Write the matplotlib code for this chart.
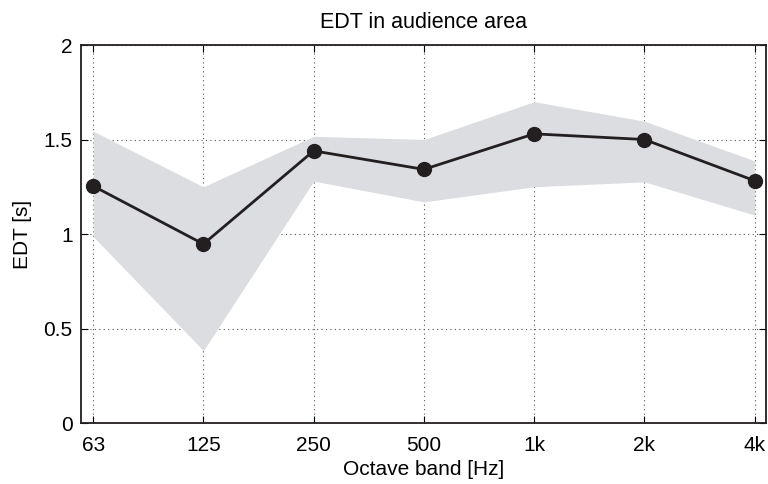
import matplotlib
matplotlib.use('Agg')
import matplotlib.pyplot as plt
import numpy as np

plt.rcParams['font.family'] = ['Liberation Sans', 'DejaVu Sans']

bands = ['63', '125', '250', '500', '1k', '2k', '4k']
edt_mean = [1.254, 0.947, 1.44, 1.342, 1.53, 1.50, 1.282]
edt_upper = [1.544, 1.25, 1.517, 1.50, 1.70, 1.597, 1.387]
edt_lower = [0.987, 0.383, 1.28, 1.17, 1.25, 1.276, 1.10]

x = np.arange(len(bands))

fig = plt.figure(figsize=(7.68, 4.84), dpi=100)
ax = fig.add_axes([0.1055, 0.126, 0.8915, 0.781])

# spread of EDT across seats, then the mean per band
ax.fill_between(x, edt_lower, edt_upper, color='#dcdde0', linewidth=0, zorder=1)
ax.plot(x, edt_mean, color='#231f20', lw=2, marker='o', ms=10, zorder=3)

ax.set_xlim(-0.11, 6.1)
ax.set_ylim(0, 2)
ax.set_xticks(x)
ax.set_xticklabels(bands)
ax.set_yticks([0, 0.5, 1, 1.5, 2])
ax.set_yticklabels(['0', '0.5', '1', '1.5', '2'])

ax.grid(True, linestyle=(0, (1, 3)), color='#555555', linewidth=0.8, zorder=0)
ax.set_axisbelow(True)
ax.tick_params(direction='in', top=True, right=True, length=5, labelsize=15)
ax.tick_params(axis='x', pad=9)
ax.tick_params(axis='y', pad=6)
for s in ax.spines.values():
    s.set_linewidth(1.3)
    s.set_color('#231f20')

ax.set_xlabel('Octave band [Hz]', fontsize=15, labelpad=4)
ax.set_ylabel('EDT [s]', fontsize=15, labelpad=8)
ax.set_title('EDT in audience area', fontsize=15.5, pad=12)

fig.savefig('out.png', dpi=100)
